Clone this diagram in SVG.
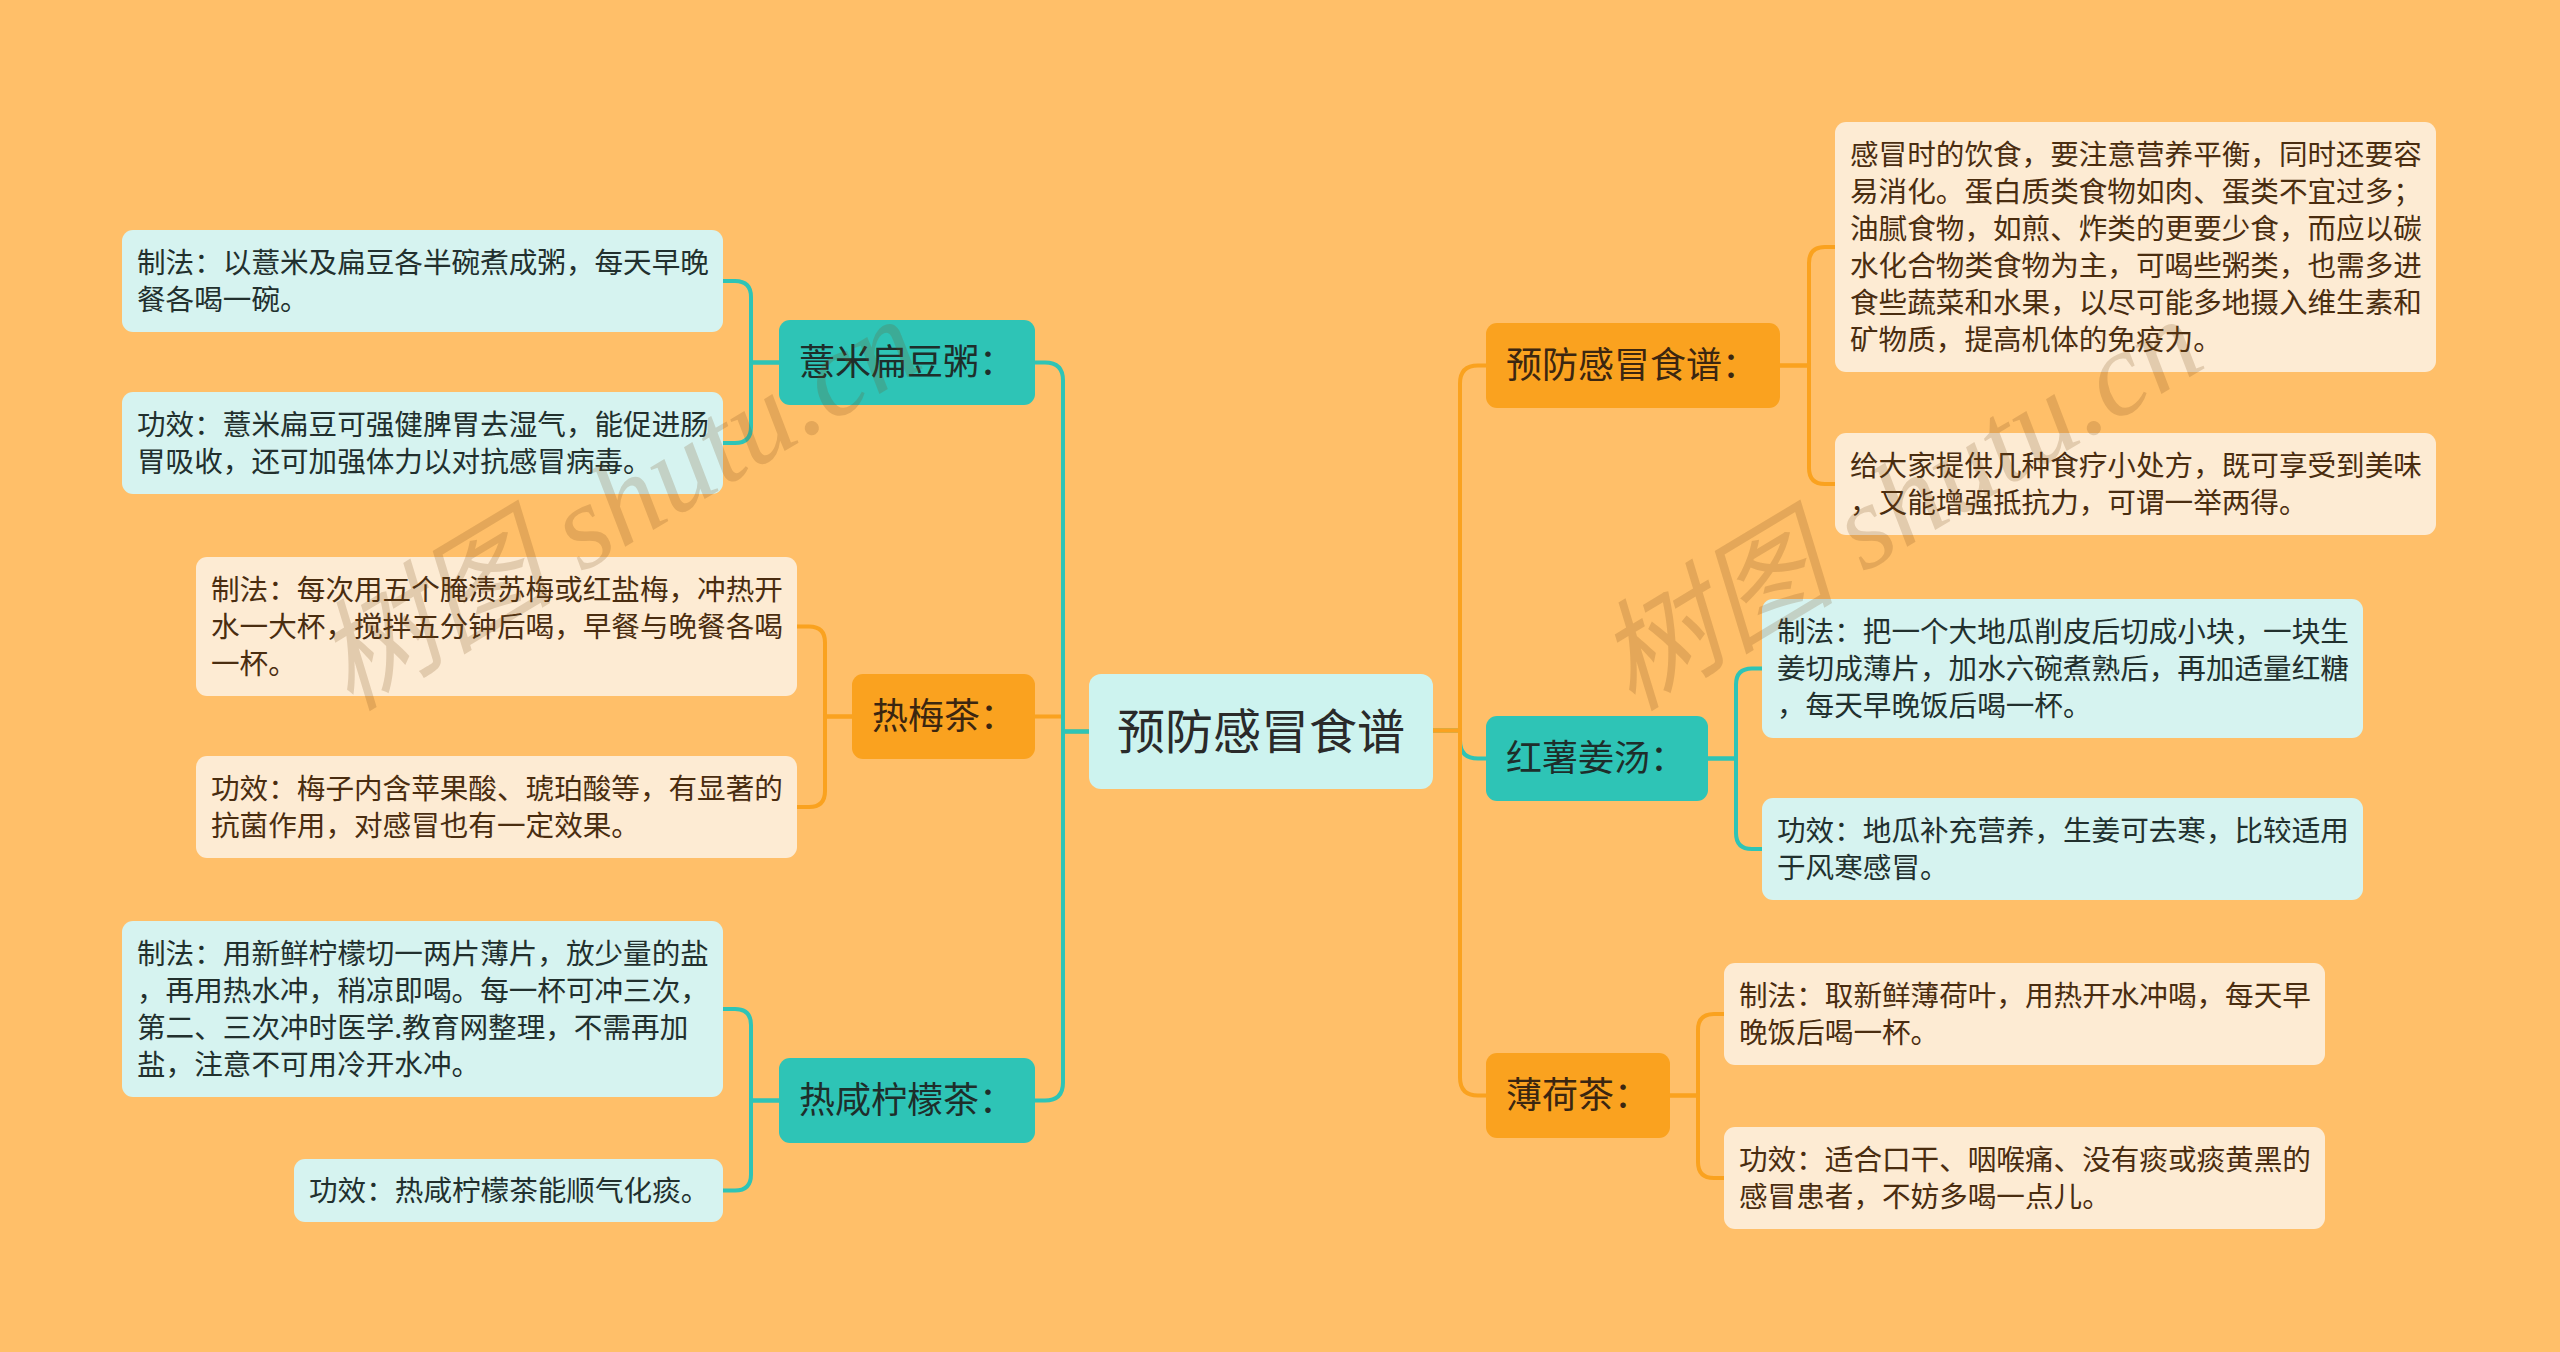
<svg xmlns="http://www.w3.org/2000/svg" width="2560" height="1352" viewBox="0 0 2560 1352">
<style>
.bg{fill:#FFBF69}
.t{font-family:"Noto Sans CJK SC","Noto Sans",sans-serif}
.cy{fill:#D6F3F0}
.cr{fill:#FDEBD3}
.tealN{fill:#2EC4B6}
.orN{fill:#FAA21F}
.ctr{fill:#CDF3EF}
.txC{font-size:28.6px;fill:#22302E}
.txR{font-size:28.6px;fill:#4A2D10}
.l1T{font-size:36px;fill:#1E2E2B}
.l1O{font-size:36px;fill:#3B2610}
.ct{font-size:48px;fill:#2A2A2A}
.eT{fill:none;stroke:#2EC4B6;stroke-width:4;stroke-linejoin:round}
.eO{fill:none;stroke:#FAA21F;stroke-width:4;stroke-linejoin:round}
.wm{font-family:"Liberation Serif","Noto Sans CJK SC",serif;font-style:italic;font-size:120px;fill:#7A4A1A;fill-opacity:0.2}
</style>
<rect class="bg" x="0" y="0" width="2560" height="1352"/>

<g id="connectors">
  <path class="eO" d="M1089 731.5 H1063 V716.5 H1035"/>
  <path class="eT" d="M1089 731.5 H1063 V380.5 Q1063 362.5 1045 362.5 H1035"/>
  <path class="eT" d="M1089 731.5 H1063 V1082.5 Q1063 1100.5 1045 1100.5 H1035"/>
  <path class="eT" d="M1433 730.5 H1460 V740.5 Q1460 758.5 1478 758.5 H1486"/>
  <path class="eO" d="M1433 730.5 H1460 V383.5 Q1460 365.5 1478 365.5 H1486"/>
  <path class="eO" d="M1433 730.5 H1460 V1077.5 Q1460 1095.5 1478 1095.5 H1486"/>
  <path class="eT" d="M779 362.5 H751 V297 Q751 281 735 281 H723"/>
  <path class="eT" d="M779 362.5 H751 V427 Q751 443 735 443 H723"/>
  <path class="eO" d="M852 716.5 H825 V642.5 Q825 626.5 809 626.5 H797"/>
  <path class="eO" d="M852 716.5 H825 V791 Q825 807 809 807 H797"/>
  <path class="eT" d="M779 1100.5 H751 V1025 Q751 1009 735 1009 H723"/>
  <path class="eT" d="M779 1100.5 H751 V1174.5 Q751 1190.5 735 1190.5 H723"/>
  <path class="eO" d="M1780 365.5 H1809 V263 Q1809 247 1825 247 H1835"/>
  <path class="eO" d="M1780 365.5 H1809 V468 Q1809 484 1825 484 H1835"/>
  <path class="eT" d="M1708 758.5 H1736 V684.5 Q1736 668.5 1752 668.5 H1762"/>
  <path class="eT" d="M1708 758.5 H1736 V833 Q1736 849 1752 849 H1762"/>
  <path class="eO" d="M1670 1095.5 H1698 V1030 Q1698 1014 1714 1014 H1724"/>
  <path class="eO" d="M1670 1095.5 H1698 V1162 Q1698 1178 1714 1178 H1724"/>
</g>

<g id="center">
  <rect class="ctr" x="1089" y="674" width="344" height="115" rx="12"/>
  <text class="t ct" x="1117" y="748.5">预防感冒食谱</text>
</g>

<g id="n-yimi">
  <rect class="tealN" x="779" y="320" width="256" height="85" rx="11"/>
  <text class="t l1T" x="799" y="375">薏米扁豆粥：</text>
</g>
<g id="n-yimi-1">
  <rect class="cy" x="122" y="230" width="601" height="102" rx="11"/>
  <text class="t txC"><tspan x="137" y="272.5">制法：以薏米及扁豆各半碗煮成粥，每天早晚</tspan><tspan x="137" y="309.5">餐各喝一碗。</tspan></text>
</g>
<g id="n-yimi-2">
  <rect class="cy" x="122" y="392" width="601" height="102" rx="11"/>
  <text class="t txC"><tspan x="137" y="434.5">功效：薏米扁豆可强健脾胃去湿气，能促进肠</tspan><tspan x="137" y="471.5">胃吸收，还可加强体力以对抗感冒病毒。</tspan></text>
</g>

<g id="n-remei">
  <rect class="orN" x="852" y="674" width="183" height="85" rx="11"/>
  <text class="t l1O" x="872" y="729">热梅茶：</text>
</g>
<g id="n-remei-1">
  <rect class="cr" x="196" y="557" width="601" height="139" rx="11"/>
  <text class="t txR"><tspan x="211" y="599.5">制法：每次用五个腌渍苏梅或红盐梅，冲热开</tspan><tspan x="211" y="636.5">水一大杯，搅拌五分钟后喝，早餐与晚餐各喝</tspan><tspan x="211" y="673.5">一杯。</tspan></text>
</g>
<g id="n-remei-2">
  <rect class="cr" x="196" y="756" width="601" height="102" rx="11"/>
  <text class="t txR"><tspan x="211" y="798.5">功效：梅子内含苹果酸、琥珀酸等，有显著的</tspan><tspan x="211" y="835.5">抗菌作用，对感冒也有一定效果。</tspan></text>
</g>

<g id="n-ningmeng">
  <rect class="tealN" x="779" y="1058" width="256" height="85" rx="11"/>
  <text class="t l1T" x="799" y="1113">热咸柠檬茶：</text>
</g>
<g id="n-ningmeng-1">
  <rect class="cy" x="122" y="921" width="601" height="176" rx="11"/>
  <text class="t txC"><tspan x="137" y="963.5">制法：用新鲜柠檬切一两片薄片，放少量的盐</tspan><tspan x="137" y="1000.5">，再用热水冲，稍凉即喝。每一杯可冲三次，</tspan><tspan x="137" y="1037.5">第二、三次冲时医学.教育网整理，不需再加</tspan><tspan x="137" y="1074.5">盐，注意不可用冷开水冲。</tspan></text>
</g>
<g id="n-ningmeng-2">
  <rect class="cy" x="294" y="1159" width="429" height="63" rx="11"/>
  <text class="t txC" x="309" y="1200.5">功效：热咸柠檬茶能顺气化痰。</text>
</g>

<g id="n-yufang">
  <rect class="orN" x="1486" y="323" width="294" height="85" rx="11"/>
  <text class="t l1O" x="1506" y="378">预防感冒食谱：</text>
</g>
<g id="n-yufang-1">
  <rect class="cr" x="1835" y="122" width="601" height="250" rx="11"/>
  <text class="t txR"><tspan x="1850" y="164.5">感冒时的饮食，要注意营养平衡，同时还要容</tspan><tspan x="1850" y="201.5">易消化。蛋白质类食物如肉、蛋类不宜过多；</tspan><tspan x="1850" y="238.5">油腻食物，如煎、炸类的更要少食，而应以碳</tspan><tspan x="1850" y="275.5">水化合物类食物为主，可喝些粥类，也需多进</tspan><tspan x="1850" y="312.5">食些蔬菜和水果，以尽可能多地摄入维生素和</tspan><tspan x="1850" y="349.5">矿物质，提高机体的免疫力。</tspan></text>
</g>
<g id="n-yufang-2">
  <rect class="cr" x="1835" y="433" width="601" height="102" rx="11"/>
  <text class="t txR"><tspan x="1850" y="475.5">给大家提供几种食疗小处方，既可享受到美味</tspan><tspan x="1850" y="512.5">，又能增强抵抗力，可谓一举两得。</tspan></text>
</g>

<g id="n-hongshu">
  <rect class="tealN" x="1486" y="716" width="222" height="85" rx="11"/>
  <text class="t l1T" x="1506" y="771">红薯姜汤：</text>
</g>
<g id="n-hongshu-1">
  <rect class="cy" x="1762" y="599" width="601" height="139" rx="11"/>
  <text class="t txC"><tspan x="1777" y="641.5">制法：把一个大地瓜削皮后切成小块，一块生</tspan><tspan x="1777" y="678.5">姜切成薄片，加水六碗煮熟后，再加适量红糖</tspan><tspan x="1777" y="715.5">，每天早晚饭后喝一杯。</tspan></text>
</g>
<g id="n-hongshu-2">
  <rect class="cy" x="1762" y="798" width="601" height="102" rx="11"/>
  <text class="t txC"><tspan x="1777" y="840.5">功效：地瓜补充营养，生姜可去寒，比较适用</tspan><tspan x="1777" y="877.5">于风寒感冒。</tspan></text>
</g>

<g id="n-bohe">
  <rect class="orN" x="1486" y="1053" width="184" height="85" rx="11"/>
  <text class="t l1O" x="1506" y="1108">薄荷茶：</text>
</g>
<g id="n-bohe-1">
  <rect class="cr" x="1724" y="963" width="601" height="102" rx="11"/>
  <text class="t txR"><tspan x="1739" y="1005.5">制法：取新鲜薄荷叶，用热开水冲喝，每天早</tspan><tspan x="1739" y="1042.5">晚饭后喝一杯。</tspan></text>
</g>
<g id="n-bohe-2">
  <rect class="cr" x="1724" y="1127" width="601" height="102" rx="11"/>
  <text class="t txR"><tspan x="1739" y="1169.5">功效：适合口干、咽喉痛、没有痰或痰黄黑的</tspan><tspan x="1739" y="1206.5">感冒患者，不妨多喝一点儿。</tspan></text>
</g>

<g id="watermarks">
  <text class="wm" transform="translate(350 712) rotate(-31)">树图 shutu.cn</text>
  <text class="wm" transform="translate(1632 712) rotate(-31)">树图 shutu.cn</text>
</g>
</svg>
